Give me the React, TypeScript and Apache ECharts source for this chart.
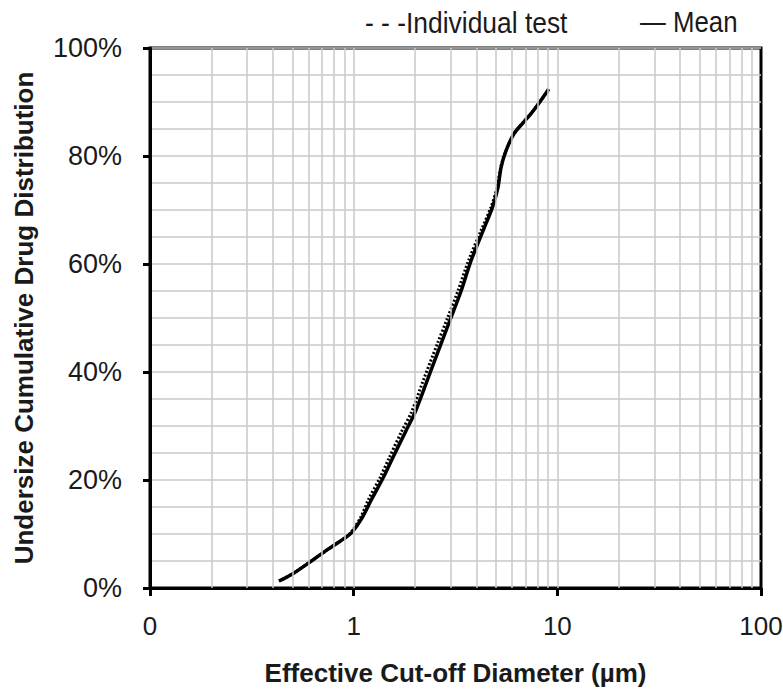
import React, { useEffect, useRef } from "react";
import * as echarts from "echarts";

const meanX = [0.43, 0.5, 0.62, 0.75, 0.9, 0.98, 1.1, 1.22, 1.4, 1.55, 1.8, 2.0, 2.3, 2.69, 3.0, 3.37, 3.77, 4.3, 4.8, 5.1, 5.3, 5.6, 6.12, 6.8, 7.41, 8.2, 9.08];
const meanY = [1.3, 2.6, 5.0, 7.2, 9.2, 10.3, 13.0, 16.3, 20.5, 24.0, 29.0, 32.5, 38.5, 45.3, 50.0, 55.0, 60.6, 66.0, 70.5, 74.0, 78.0, 81.0, 84.1, 86.2, 87.8, 90.0, 92.4];
const testX = [0.43, 0.5, 0.62, 0.75, 0.9, 0.97, 1.08, 1.18, 1.35, 1.49, 1.72, 1.92, 2.2, 2.58, 2.89, 3.25, 3.66, 4.2, 4.72, 5.05, 5.28, 5.6, 6.12, 6.8, 7.41, 8.2, 9.08];
const testY = [1.3, 2.6, 5.0, 7.2, 9.2, 10.3, 13.0, 16.3, 20.5, 24.0, 29.0, 32.5, 38.5, 45.3, 50.0, 55.0, 60.6, 66.0, 70.5, 74.0, 78.0, 81.0, 84.1, 86.2, 87.8, 90.0, 92.4];
const minorGridX = [0.2, 0.3, 0.4, 0.5, 0.6, 0.7, 0.8, 0.9, 2, 3, 4, 5, 6, 7, 8, 9, 20, 30, 40, 50, 60, 70, 80, 90];
const majorGridX = [1, 10];
const legendLabels = ["- - -Individual test", "— Mean"];
const xTitle = "Effective Cut-off Diameter (µm)";
const yTitle = "Undersize Cumulative Drug Distribution";

const FONT = "'Liberation Sans', Arial, sans-serif";

export default function App() {
  const ref = useRef<HTMLDivElement>(null);
  useEffect(() => {
    const chart = echarts.init(ref.current!, undefined, { renderer: "svg" });
    const gridColor = "#c9c9c9";
    chart.setOption({
      animation: false,
      backgroundColor: "#ffffff",
      grid: {
        left: 150, right: 22, top: 48, bottom: 105,
        outerBoundsMode: "none",
        containLabel: false,
        show: true, borderColor: "#000", borderWidth: 3, backgroundColor: "transparent",
      },
      graphic: [
        { type: "text", left: 365, top: 7, scaleX: 0.88, style: { text: legendLabels[0], font: `30px ${FONT}`, fill: "#1a1a1a" } },
        { type: "text", left: 640, top: 7, scaleX: 0.86, style: { text: legendLabels[1], font: `30px ${FONT}`, fill: "#1a1a1a" } },
      ],
      xAxis: {
        type: "log",
        logBase: 10,
        min: 0.1,
        max: 100,
        name: xTitle,
        nameLocation: "middle",
        nameGap: 72,
        nameTextStyle: { fontFamily: FONT, fontWeight: "bold", fontSize: 26, color: "#1a1a1a" },
        axisLine: { show: true, lineStyle: { color: "#000", width: 3 } },
        axisTick: { show: true, length: 8, inside: false, lineStyle: { color: "#000", width: 3 } },
        axisLabel: { fontFamily: FONT, fontSize: 26, color: "#1a1a1a", margin: 25, formatter: (v: number) => (v < 1 ? "0" : String(Math.round(v))) },
        splitLine: { show: false },
      },
      yAxis: {
        type: "value",
        min: 0,
        max: 100,
        interval: 20,
        name: yTitle,
        nameLocation: "middle",
        nameGap: 113,
        nameTextStyle: { fontFamily: FONT, fontWeight: "bold", fontSize: 26, color: "#1a1a1a" },
        axisLine: { show: true, lineStyle: { color: "#000", width: 3 } },
        axisTick: { show: true, length: 7, lineStyle: { color: "#000", width: 3 } },
        axisLabel: { fontFamily: FONT, fontSize: 27, color: "#1a1a1a", margin: 28, formatter: (v: number) => `${v}%` },
        splitLine: { show: true, lineStyle: { color: gridColor, width: 1.5 } },
        minorTick: { show: false, splitNumber: 4 },
        minorSplitLine: { show: true, lineStyle: { color: gridColor, width: 1.5 } },
      },
      series: [
        {
          name: "grid",
          type: "line",
          data: [],
          silent: true,
          z: 1,
          markLine: {
            silent: true,
            symbol: "none",
            label: { show: false },
            lineStyle: { color: gridColor, width: 1.5, type: "solid" },
            data: [...minorGridX, ...majorGridX].map((v) => ({ xAxis: v })),
          },
        },
        {
          name: "Individual test",
          type: "line",
          data: testX.map((x, i) => [x, testY[i]]),
          showSymbol: false,
          smooth: 0.3,
          z: 3,
          lineStyle: { color: "#000", width: 3, type: [2, 2] },
        },
        {
          name: "Mean",
          type: "line",
          data: meanX.map((x, i) => [x, meanY[i]]),
          showSymbol: false,
          smooth: 0.3,
          z: 4,
          lineStyle: { color: "#000", width: 3.5 },
        },
      ],
    });
    return () => chart.dispose();
  }, []);
  return <div ref={ref} style={{ position: "absolute", left: 0, top: 0, width: 783, height: 693 }} />;
}
